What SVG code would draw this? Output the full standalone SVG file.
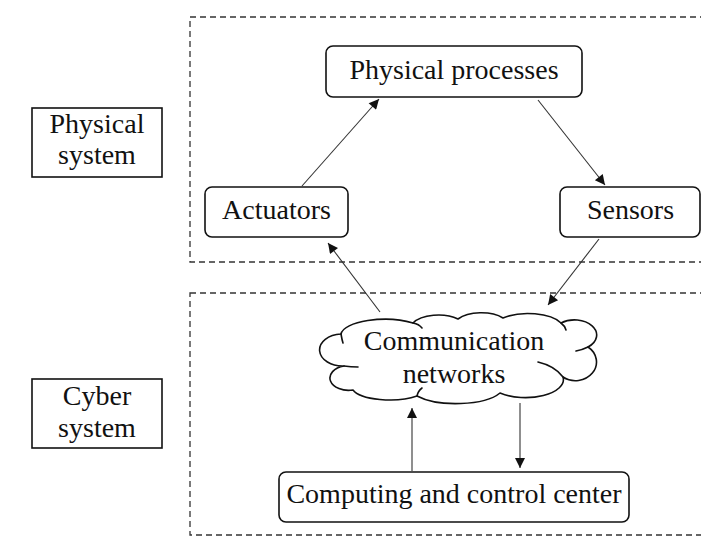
<svg xmlns="http://www.w3.org/2000/svg" width="701" height="553" viewBox="0 0 701 553">
<style>
.bg{fill:#ffffff}
.region{fill:none;stroke:#333;stroke-width:1.3;stroke-dasharray:6 4}
.node{fill:#fff;stroke:#111;stroke-width:1.6}
.label{fill:#fff;stroke:#111;stroke-width:1.6}
.t{font-family:"Liberation Serif","Times New Roman",serif;font-size:28px;fill:#111;text-anchor:middle}
.edge{stroke:#333;stroke-width:1.1;fill:none;marker-end:url(#ah)}
.cloud{fill:#fff;stroke:#111;stroke-width:1.6;stroke-linejoin:round}
.tick{fill:none;stroke:#111;stroke-width:1.6;stroke-linecap:round}
</style>
<defs>
<marker id="ah" viewBox="0 0 10 10" refX="10" refY="5" markerWidth="14" markerHeight="10" markerUnits="userSpaceOnUse" orient="auto">
<path d="M0 0 L10 5 L0 10 Z" fill="#111"/>
</marker>
</defs>
<rect class="bg" x="0" y="0" width="701" height="553"/>

<g id="physical-region"><rect class="region" x="190" y="17" width="560" height="245"/></g>
<g id="cyber-region"><rect class="region" x="190" y="293" width="560" height="242"/></g>

<g id="physical-system-label">
<rect class="label" x="32" y="108" width="130" height="69"/>
<text class="t" x="97" y="133">Physical</text>
<text class="t" x="97" y="164">system</text>
</g>
<g id="cyber-system-label">
<rect class="label" x="32" y="379" width="130" height="69"/>
<text class="t" x="97" y="405">Cyber</text>
<text class="t" x="97" y="437">system</text>
</g>

<g id="connectors">
<line class="edge" x1="302" y1="186" x2="379" y2="99"/>
<line class="edge" x1="538" y1="100" x2="605" y2="185"/>
<line class="edge" x1="380" y1="312" x2="328" y2="243"/>
<line class="edge" x1="599" y1="239" x2="548" y2="305"/>
<line class="edge" x1="412" y1="471" x2="412" y2="408"/>
<line class="edge" x1="520" y1="403" x2="520" y2="468"/>
</g>

<g id="physical-processes">
<rect class="node" x="326" y="46" width="256" height="51" rx="7"/>
<text class="t" x="454" y="79">Physical processes</text>
</g>
<g id="actuators">
<rect class="node" x="205" y="187" width="143" height="50" rx="7"/>
<text class="t" x="276.5" y="219">Actuators</text>
</g>
<g id="sensors">
<rect class="node" x="560" y="187" width="140" height="50" rx="7"/>
<text class="t" x="630.5" y="219">Sensors</text>
</g>
<g id="communication-networks">
<path class="cloud" d="M341 334 A44 16 0 0 1 413 323 A28 14 0 0 1 458 319 A28 14 0 0 1 503 318 A36 16 0 0 1 561 323 A22 15 0 0 1 588 347 A18 16 0 0 1 563 377 A38 18 0 0 1 500 393 A48 18 0 0 1 417 396 A38 13 0 0 1 353 390 A18 12 0 0 1 344 366 A20 14 0 0 1 341 334 Z"/>
<path class="tick" d="M413 323 Q419 324 422 328"/>
<path class="tick" d="M561 323 Q565 326 566 330"/>
<path class="tick" d="M588 347 Q582 350 576 351"/>
<path class="tick" d="M563 377 Q555 366 538 362"/>
<path class="tick" d="M417 396 Q418 391 422 388"/>
<path class="tick" d="M344 366 Q351 367 358 367"/>
<path class="tick" d="M341 334 Q342 340 343 343"/>
<text class="t" x="454" y="350">Communication</text>
<text class="t" x="454" y="383">networks</text>
</g>
<g id="computing-control-center">
<rect class="node" x="279" y="472" width="350" height="50" rx="7"/>
<text class="t" x="454" y="503">Computing and control center</text>
</g>
</svg>
